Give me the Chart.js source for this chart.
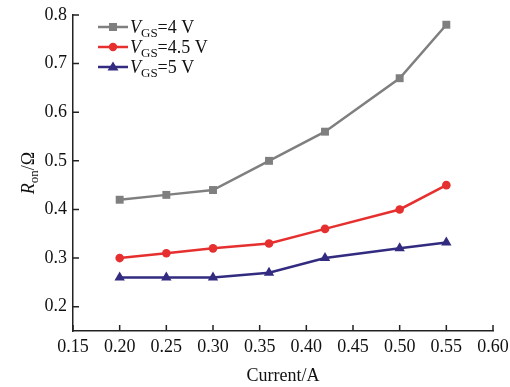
<!DOCTYPE html>
<html>
<head>
<meta charset="utf-8">
<script src="https://cdn.jsdelivr.net/npm/chart.js@4"></script>
<style>
  html, body { margin: 0; padding: 0; background: #fff; }
  #wrap { width: 510px; height: 387px; }
</style>
</head>
<body>
<div id="wrap"><canvas id="chart" width="510" height="387"></canvas></div>
<script>
const currents = [0.20, 0.25, 0.30, 0.36, 0.42, 0.50, 0.55];
const ron4V = [0.42, 0.43, 0.44, 0.50, 0.56, 0.67, 0.78];
const ron45V = [0.30, 0.31, 0.32, 0.33, 0.36, 0.40, 0.45];
const ron5V = [0.26, 0.26, 0.26, 0.27, 0.30, 0.32, 0.332];
const seriesLabels = ["4 V", "4.5 V", "5 V"];
const xTicks = [0.15, 0.20, 0.25, 0.30, 0.35, 0.40, 0.45, 0.50, 0.55, 0.60];
const yTicks = [0.2, 0.3, 0.4, 0.5, 0.6, 0.7, 0.8];

const FONT = "'Liberation Serif', 'DejaVu Serif', serif";
const colors = ["#7f7f7f", "#e5302f", "#322b80"];
const styles = ["rect", "circle", "triangle"];
const radii = [5.6, 4.3, 6];

function toPoints(values) {
  return currents.map((x, i) => ({ x, y: values[i] }));
}

function makeDataset(values, i) {
  return {
    label: seriesLabels[i],
    data: toPoints(values),
    borderColor: colors[i],
    backgroundColor: colors[i],
    borderWidth: 2.5,
    pointStyle: styles[i],
    pointRadius: radii[i],
    pointBorderWidth: 0,
    tension: 0
  };
}

function drawMarker(ctx, style, x, y, color) {
  ctx.fillStyle = color;
  ctx.beginPath();
  if (style === "rect") {
    ctx.rect(x - 4, y - 4, 8, 8);
  } else if (style === "circle") {
    ctx.arc(x, y, 4.2, 0, Math.PI * 2);
  } else {
    ctx.moveTo(x, y - 5.5);
    ctx.lineTo(x + 5.5, y + 3.5);
    ctx.lineTo(x - 5.5, y + 3.5);
    ctx.closePath();
  }
  ctx.fill();
}

// inward tick marks, y title with subscript, and the legend
const decorations = {
  id: "decorations",
  afterDraw(chart) {
    const ctx = chart.ctx;
    const area = chart.chartArea;
    const xs = chart.scales.x;
    const ys = chart.scales.y;
    ctx.save();
    ctx.strokeStyle = "#222";
    ctx.lineWidth = 1.5;
    ctx.beginPath();
    xTicks.forEach((v) => {
      const px = xs.getPixelForValue(v);
      ctx.moveTo(px, area.bottom);
      ctx.lineTo(px, area.bottom - 6);
    });
    yTicks.forEach((v) => {
      const py = ys.getPixelForValue(v);
      ctx.moveTo(area.left, py);
      ctx.lineTo(area.left + 6, py);
    });
    ctx.stroke();

    // y axis title: R_on/Ω
    ctx.translate(28, 173);
    ctx.rotate(-Math.PI / 2);
    ctx.fillStyle = "#111";
    ctx.textBaseline = "alphabetic";
    const big = "18px " + FONT;
    const ital = "italic 18px " + FONT;
    const sub = "13px " + FONT;
    ctx.font = ital; const wR = ctx.measureText("R").width;
    ctx.font = sub; const wOn = ctx.measureText("on").width;
    ctx.font = big; const wRest = ctx.measureText("/Ω").width;
    let x0 = -(wR + wOn + wRest) / 2;
    ctx.font = ital; ctx.fillText("R", x0, 6); x0 += wR;
    ctx.font = sub; ctx.fillText("on", x0, 10); x0 += wOn;
    ctx.font = big; ctx.fillText("/Ω", x0, 6);
    ctx.setTransform(1, 0, 0, 1, 0, 0);

    // legend
    seriesLabels.forEach((label, i) => {
      const y = 27 + i * 20;
      ctx.strokeStyle = colors[i];
      ctx.lineWidth = 2.5;
      ctx.beginPath();
      ctx.moveTo(98, y);
      ctx.lineTo(128, y);
      ctx.stroke();
      drawMarker(ctx, styles[i], 113, y, colors[i]);
      let tx = 130;
      ctx.fillStyle = "#111";
      ctx.font = ital; ctx.fillText("V", tx, y + 6); tx += ctx.measureText("V").width;
      ctx.font = sub; ctx.fillText("GS", tx, y + 10); tx += ctx.measureText("GS").width;
      ctx.font = big; ctx.fillText("=" + label, tx, y + 6);
    });
    ctx.restore();
  }
};

new Chart(document.getElementById("chart"), {
  type: "line",
  data: {
    datasets: [makeDataset(ron4V, 0), makeDataset(ron45V, 1), makeDataset(ron5V, 2)]
  },
  options: {
    responsive: false,
    animation: false,
    devicePixelRatio: 1,
    layout: { padding: { top: 15, right: 17, left: 0, bottom: 0 } },
    plugins: { legend: { display: false }, tooltip: { enabled: false } },
    scales: {
      x: {
        type: "linear",
        min: 0.15,
        max: 0.6,
        afterBuildTicks(scale) { scale.ticks = xTicks.map((value) => ({ value })); },
        afterFit(scale) {
          scale.height = 56;
          scale.paddingLeft = 0;
          scale.paddingRight = 0;
        },
        grid: { display: false, drawTicks: false },
        border: { display: true, color: "#222", width: 1.5 },
        ticks: {
          color: "#111",
          padding: 5,
          maxRotation: 0,
          autoSkip: false,
          font: { family: FONT, size: 18 },
          callback: (v) => Number(v).toFixed(2)
        },
        title: {
          display: true,
          text: "Current/A",
          color: "#111",
          padding: { top: 2, bottom: 0 },
          font: { family: FONT, size: 18 }
        }
      },
      y: {
        min: 0.15,
        max: 0.8,
        afterBuildTicks(scale) { scale.ticks = yTicks.map((value) => ({ value })); },
        afterFit(scale) {
          scale.width = 73;
          scale.paddingTop = 0;
          scale.paddingBottom = 0;
        },
        grid: { display: false, drawTicks: false },
        border: { display: true, color: "#222", width: 1.5 },
        ticks: {
          color: "#111",
          padding: 6,
          autoSkip: false,
          font: { family: FONT, size: 18 },
          callback: (v) => Number(v).toFixed(1)
        }
      }
    }
  },
  plugins: [decorations]
});
</script>
</body>
</html>
